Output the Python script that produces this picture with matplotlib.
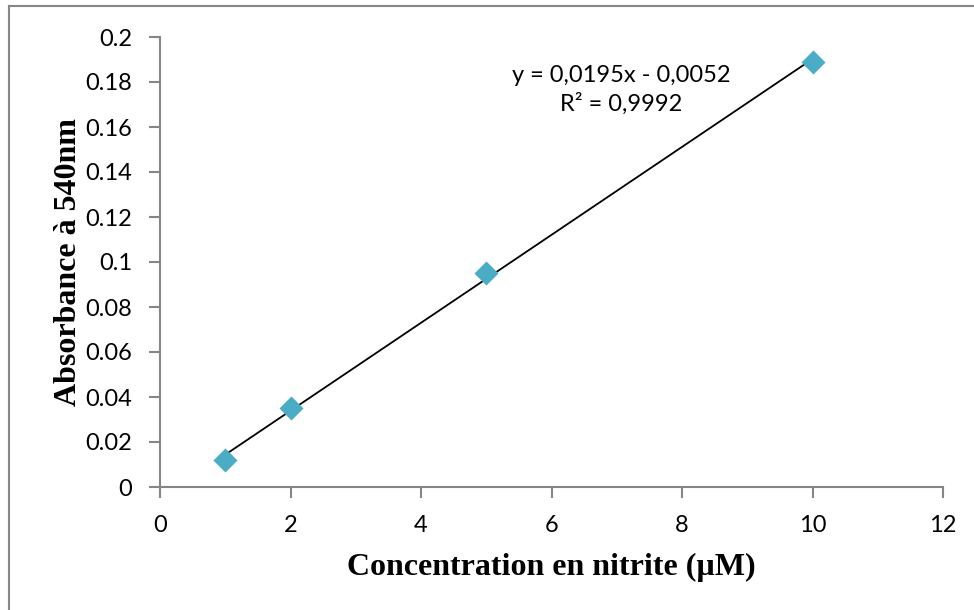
import numpy as np
import matplotlib
matplotlib.use("Agg")
import matplotlib.pyplot as plt
from matplotlib.lines import Line2D

# data
conc = [1, 2, 5, 10]
absorb = [0.012, 0.035, 0.095, 0.189]
xticks = [0, 2, 4, 6, 8, 10, 12]
yticks = [0, 0.02, 0.04, 0.06, 0.08, 0.1, 0.12, 0.14, 0.16, 0.18, 0.2]
ytick_labels = ["0", "0.02", "0.04", "0.06", "0.08", "0.1", "0.12", "0.14", "0.16", "0.18", "0.2"]
eq_text = "y = 0,0195x - 0,0052\nR² = 0,9992"

grey = "#868686"
tick_font = "Lato"

fig = plt.figure(figsize=(9.74, 6.1), dpi=100)
ax = fig.add_axes([160 / 974, 1 - 487 / 610, (943 - 160) / 974, (487 - 37) / 610])

# linear trendline over the measured range
slope, intercept = np.polyfit(conc, absorb, 1)
xl = np.array([conc[0], conc[-1]])
ax.plot(xl, slope * xl + intercept, color="black", lw=1.3, zorder=2)

ax.scatter(conc, absorb, marker="D", s=150, color="#4BACC6", zorder=3, linewidths=0)

ax.set_xlim(0, 12)
ax.set_ylim(0, 0.2)
ax.set_xticks(xticks)
ax.set_xticklabels([str(t) for t in xticks])
ax.set_yticks(yticks)
ax.set_yticklabels(ytick_labels)

for s in ["top", "right"]:
    ax.spines[s].set_visible(False)
for s in ["left", "bottom"]:
    ax.spines[s].set_color(grey)
    ax.spines[s].set_linewidth(1.5)
ax.tick_params(direction="out", length=8, width=1.5, color=grey, labelsize=17, pad=12)
for lab in ax.get_xticklabels() + ax.get_yticklabels():
    lab.set_fontfamily(tick_font)

ax.set_xlabel("Concentration en nitrite (µM)", fontfamily="Liberation Serif",
              fontweight="bold", fontsize=23, labelpad=12)
ax.set_ylabel("Absorbance à 540nm", fontfamily="Liberation Serif",
              fontweight="bold", fontsize=23, labelpad=1.5)

ax.text(621 / 974, 1 - 90 / 610, eq_text, transform=fig.transFigure, ha="center", va="center",
        fontfamily=tick_font, fontsize=17, linespacing=1.4)

# outer chart frame (left and top edges visible)
fig.add_artist(Line2D([9 / 974, 9 / 974], [0, 1 - 6 / 610], transform=fig.transFigure, color=grey, lw=1.5))
fig.add_artist(Line2D([9 / 974, 1], [1 - 6 / 610, 1 - 6 / 610], transform=fig.transFigure, color=grey, lw=1.5))

fig.savefig("out.png", dpi=100)
